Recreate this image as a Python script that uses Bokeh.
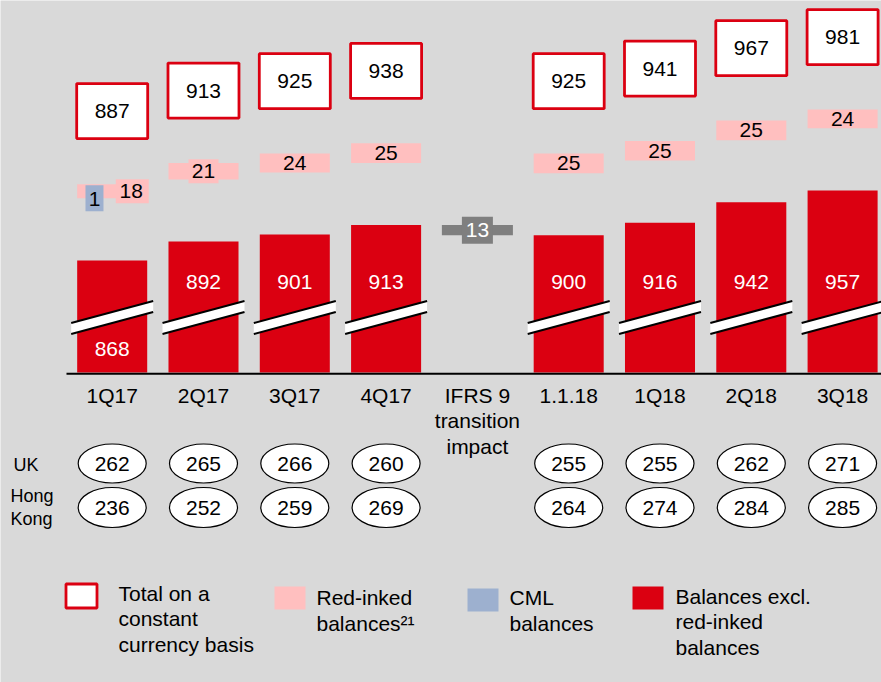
from bokeh.plotting import figure
from bokeh.models import Range1d
from bokeh.core.properties import value
from bokeh.embed import file_html
from bokeh.resources import INLINE

# ---------------- data ----------------
categories = ["1Q17", "2Q17", "3Q17", "4Q17", "IFRS 9\ntransition\nimpact",
              "1.1.18", "1Q18", "2Q18", "3Q18"]
balances_excl = [868, 892, 901, 913, None, 900, 916, 942, 957]
red_inked = [18, 21, 24, 25, None, 25, 25, 25, 24]
cml = [1, 0, 0, 0, None, 0, 0, 0, 0]
totals = [887, 913, 925, 938, None, 925, 941, 967, 981]
ifrs9_impact = -13
uk = [262, 265, 266, 260, None, 255, 255, 262, 271]
hong_kong = [236, 252, 259, 269, None, 264, 274, 284, 285]
row_labels = ["UK", "Hong\nKong"]
legend_labels = ["Total on a\nconstant\ncurrency basis", "Red-inked\nbalances\u00b2\u00b9",
                 "CML\nbalances", "Balances excl.\nred-inked\nbalances"]

# ---------------- styling / layout ----------------
BG = "#D9D9D9"
RED = "#DB0011"
PINK = "#FFBFBF"
BLUE = "#9DB0CF"
GRAY = "#7F7F7F"
FONT = value("Liberation Sans")
W, H = 881, 682
AXIS_BASE = 725.6          # value at the (broken) baseline
GAP_RED_INKED = 79         # gap between bar and red-inked band (value units)
TOTAL_OFFSET = 171         # total box centre above total value (value units)
BAR_W = 0.767
LINE_H = 1.11

p = figure(width=W, height=H, output_backend="svg", toolbar_location=None,
           x_range=Range1d(-1.2234, 8.4261), y_range=Range1d(331.44, 1198.58),
           x_axis_type=None, y_axis_type=None, min_border=0)
p.extra_x_ranges = {"px": Range1d(0, 881)}
p.extra_y_ranges = {"px": Range1d(682, 0)}
p.grid.visible = False
p.outline_line_color = None
p.background_fill_color = BG
p.border_fill_color = BG

idx = [i for i, v in enumerate(balances_excl) if v is not None]
bal = [balances_excl[i] for i in idx]
ri = [red_inked[i] for i in idx]
tot = [totals[i] for i in idx]

# main bars
p.vbar(x=idx, bottom=AXIS_BASE, top=bal, width=BAR_W, fill_color=RED, line_color=None)

# axis-break marks
hw = 0.449
xs = [[i - hw, i + hw, i + hw, i - hw] for i in idx]
ys = [[322.5, 300.5, 311.5, 333.5] for _ in idx]
p.patches(xs=xs, ys=ys, fill_color="white", line_color=None, y_range_name="px")
p.multi_line(xs=[[i - hw, i + hw] for i in idx], ys=[[322.5, 300.5] for _ in idx],
             line_color="black", line_width=2, y_range_name="px")
p.multi_line(xs=[[i - hw, i + hw] for i in idx], ys=[[333.5, 311.5] for _ in idx],
             line_color="black", line_width=2, y_range_name="px")

# baseline
p.line(x=[66, 881], y=[373.3, 373.3], line_color="black", line_width=2,
       x_range_name="px", y_range_name="px")

# bar value labels
bar_label_y = [348 if b - 868 < 10 else 281 for b in bal]
p.text(x=idx, y=bar_label_y, text=[str(b) for b in bal], text_color="white",
       text_font=FONT, text_font_size="21px", text_align="center",
       text_baseline="middle", y_range_name="px")

# IFRS 9 transition bar
i_ifrs = categories.index("IFRS 9\ntransition\nimpact")
prev = balances_excl[i_ifrs - 1]
p.vbar(x=[i_ifrs], bottom=[prev + ifrs9_impact], top=[prev], width=0.778,
       fill_color=GRAY, line_color=None)
p.rect(x=[i_ifrs], y=[prev + ifrs9_impact / 2], width=31, height=27,
       width_units="screen", height_units="screen", fill_color=GRAY, line_color=None)
p.text(x=[i_ifrs], y=[prev + ifrs9_impact / 2], text=[str(abs(ifrs9_impact))],
       text_color="white", text_font=FONT, text_font_size="21px",
       text_align="center", text_baseline="middle")

# red-inked bands
band_bottom = [b + GAP_RED_INKED for b in bal]
band_top = [b + GAP_RED_INKED + r for b, r in zip(bal, ri)]
band_mid = [(a + b) / 2 for a, b in zip(band_bottom, band_top)]
p.vbar(x=idx, bottom=band_bottom, top=band_top, width=BAR_W, fill_color=PINK, line_color=None)

lab_x = []
for i in idx:
    lab_x.append(i + 0.208 if cml[i] else i)
thin = [k for k, r in enumerate(ri) if r < 24]
p.rect(x=[lab_x[k] + (0.012 if cml[idx[k]] else 0) for k in thin], y=[band_mid[k] for k in thin],
       width=[33 if cml[idx[k]] else 30 for k in thin], height=24,
       width_units="screen", height_units="screen", fill_color=PINK, line_color=None)
p.text(x=lab_x, y=band_mid, text=[str(r) for r in ri], text_color="black",
       text_font=FONT, text_font_size="21px", text_align="center", text_baseline="middle")

# CML boxes
cml_k = [k for k, i in enumerate(idx) if cml[i]]
p.rect(x=[idx[k] - 0.194 for k in cml_k], y=[band_mid[k] - 9 for k in cml_k],
       width=18, height=26, width_units="screen", height_units="screen",
       fill_color=BLUE, line_color=None)
p.text(x=[idx[k] - 0.194 for k in cml_k], y=[band_mid[k] - 10 for k in cml_k],
       text=[str(cml[idx[k]]) for k in cml_k], text_color="black",
       text_font=FONT, text_font_size="21px", text_align="center", text_baseline="middle")

# total boxes
tot_y = [t + TOTAL_OFFSET for t in tot]
p.rect(x=idx, y=tot_y, width=71, height=55, width_units="screen", height_units="screen",
       fill_color="white", line_color=RED, line_width=2.8)
p.text(x=idx, y=tot_y, text=[str(t) for t in tot], text_color="black",
       text_font=FONT, text_font_size="21px", text_align="center", text_baseline="middle")

# category labels
cat_y = [395 + (c.count("\n")) * 25.5 / 2 for c in categories]
p.text(x=list(range(len(categories))), y=cat_y, text=categories, text_color="black",
       text_font=FONT, text_font_size="21px", text_align="center", text_baseline="middle",
       text_line_height=LINE_H, y_range_name="px")

# UK / Hong Kong ellipses
for row, ypx, hh in ((uk, 463, 39), (hong_kong, 507, 40)):
    rk = [i for i, v in enumerate(row) if v is not None]
    p.ellipse(x=rk, y=ypx, width=68, height=hh, width_units="screen", height_units="screen",
              fill_color="white", line_color="black", line_width=1.2, y_range_name="px")
    p.text(x=rk, y=ypx, text=[str(row[i]) for i in rk], text_color="black",
           text_font=FONT, text_font_size="21px", text_align="center",
           text_baseline="middle", y_range_name="px")

p.text(x=[13, 10], y=[464, 506.5], text=row_labels, text_color="black", text_font=FONT,
       text_font_size="18px", text_align="left", text_baseline="middle",
       text_line_height=1.15, x_range_name="px", y_range_name="px")

# legend
sq_x = [81, 289.5, 482.5, 647.5]
sq_y = [595.5, 597.5, 599.5, 597.5]
p.rect(x=sq_x[:1], y=sq_y[:1], width=31, height=24, width_units="screen", height_units="screen",
       fill_color="white", line_color=RED, line_width=2.8, x_range_name="px", y_range_name="px")
p.rect(x=sq_x[1:], y=sq_y[1:], width=31, height=23, width_units="screen", height_units="screen",
       fill_color=[PINK, BLUE, RED], line_color=None, x_range_name="px", y_range_name="px")
lt_x = [118, 316, 509, 675]
lt_first = [593, 597, 597.5, 596]
lt_y = [f + lab.count("\n") * 25.5 / 2 for f, lab in zip(lt_first, legend_labels)]
p.text(x=lt_x, y=lt_y, text=legend_labels, text_color="black", text_font=FONT,
       text_font_size="21px", text_align="left", text_baseline="middle",
       text_line_height=LINE_H, x_range_name="px", y_range_name="px")

open("out.html", "w").write(file_html(p, INLINE))
